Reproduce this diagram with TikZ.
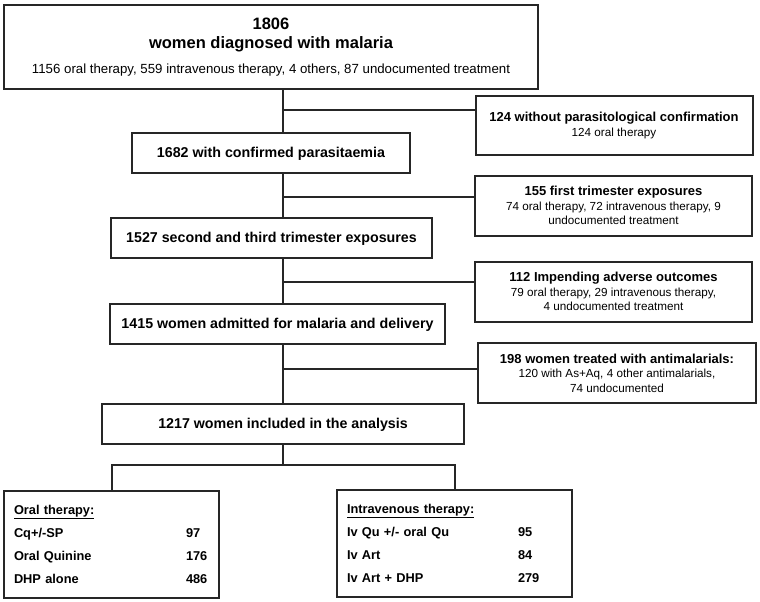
\documentclass[tikz,border=0pt]{standalone}
\usepackage{fontspec}
\setmainfont{Liberation Sans}
\usetikzlibrary{positioning}

\begin{document}
\begin{tikzpicture}[x=1pt, y=-1pt,
            flowbox/.style={
                rectangle, draw=black!85, line width=2pt,
                inner sep=2pt, align=center
            },
            mainbox/.style={flowbox, minimum height=40pt,
                text height=10.4pt, text depth=0.5pt,
                font=\fontsize{14.25}{17}\selectfont\bfseries},
            sidebox/.style={flowbox, minimum width=277pt, minimum height=60pt,
                font=\fontsize{11.7}{14.5}\selectfont},
            armbox/.style={flowbox, align=left, inner xsep=10pt, inner ysep=0pt,
                minimum height=107pt,
                font=\fontsize{12.8}{23}\selectfont\bfseries},
            link/.style={line width=2pt, draw=black!85},
        ]
            \useasboundingbox (0,0) rectangle (760,602);

            % main column
            \node [flowbox, minimum width=534pt, minimum height=84pt,
                   font=\fontsize{16.5}{19}\selectfont\bfseries] (diagnosed) at (271,47)
                {1806\\women diagnosed with malaria\\[6pt]
                 \fontsize{13.25}{16}\selectfont\mdseries 1156 oral therapy, 559 intravenous therapy, 4 others, 87 undocumented treatment};
            \node [mainbox, minimum width=278pt] (confirmed) at (271,153)   {1682 with confirmed parasitaemia};
            \node [mainbox, minimum width=321pt] (trimester) at (271.5,238) {1527 second and third trimester exposures};
            \node [mainbox, minimum width=335pt] (admitted)  at (277.5,324) {1415 women admitted for malaria and delivery};
            \node [mainbox, minimum width=362pt] (included)  at (283,424)   {1217 women included in the analysis};

            % exclusions
            \node [sidebox, minimum height=59pt] (noconfirm) at (614,125.5)
                {\bfseries\fontsize{13}{14.5}\selectfont 124 without parasitological confirmation\\124 oral therapy};
            \node [sidebox] (firsttri) at (613.5,205.5)
                {\bfseries\fontsize{13}{14.5}\selectfont 155 first trimester exposures\\74 oral therapy, 72 intravenous therapy, 9\\undocumented treatment};
            \node [sidebox] (adverse) at (613.5,291.5)
                {\bfseries\fontsize{13}{14.5}\selectfont 112 Impending adverse outcomes\\79 oral therapy, 29 intravenous therapy,\\4 undocumented treatment};
            \node [sidebox, minimum width=278pt] (treated) at (617,373)
                {\bfseries\fontsize{13}{14.5}\selectfont 198 women treated with antimalarials:\\120 with As+Aq, 4 other antimalarials,\\74 undocumented};

            % treatment arms
            \node [armbox, text width=195pt] (oral) at (111.5,544.5)
                {\underline{Oral therapy:}\\
                 \makebox[172pt][l]{Cq+/-SP}97\\
                 \makebox[172pt][l]{Oral Quinine}176\\
                 \makebox[172pt][l]{DHP alone}486};
            \node [armbox, text width=215pt] (iv) at (454.5,543.5)
                {\underline{Intravenous therapy:}\\
                 \makebox[171pt][l]{Iv Qu +/- oral Qu}95\\
                 \makebox[171pt][l]{Iv Art}84\\
                 \makebox[171pt][l]{Iv Art + DHP}279};

            \coordinate (spine) at (283,0);
            \coordinate (j1)    at (283,110);
            \coordinate (j2)    at (283,197);
            \coordinate (j3)    at (283,282);
            \coordinate (j4)    at (283,369);
            \coordinate (split) at (283,465);

            \draw[link] (diagnosed.south -| spine) -- (confirmed.north -| spine);
            \draw[link] (confirmed.south -| spine) -- (trimester.north -| spine);
            \draw[link] (trimester.south -| spine) -- (admitted.north -| spine);
            \draw[link] (admitted.south -| spine)  -- (included.north -| spine);
            \draw[link] (j1) -- (j1 -| noconfirm.west);
            \draw[link] (j2) -- (j2 -| firsttri.west);
            \draw[link] (j3) -- (j3 -| adverse.west);
            \draw[link] (j4) -- (j4 -| treated.west);

            \draw[link] (included.south -| spine) -- (split);
            \draw[link] (oral.north) |- (split) -| (iv.north);

        \end{tikzpicture}
\end{document}
